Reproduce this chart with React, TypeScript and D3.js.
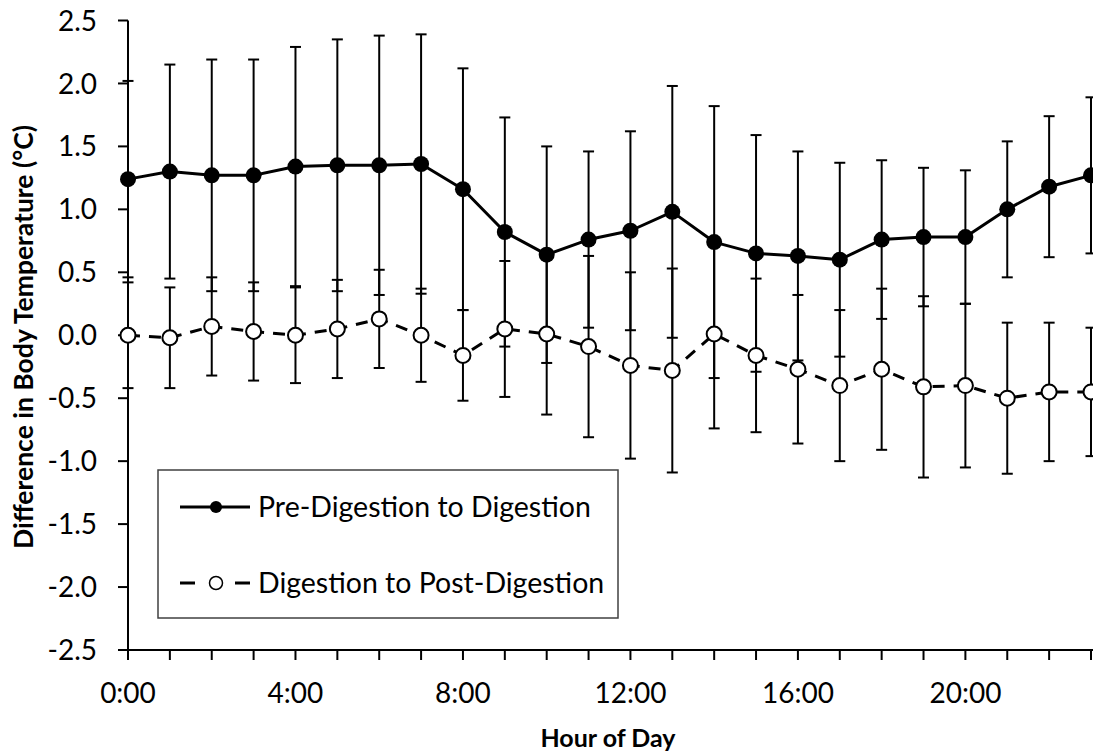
import React from "react";
import * as d3 from "d3";

const hours = d3.range(0, 24);
const xTickLabels = ["0:00", "4:00", "8:00", "12:00", "16:00", "20:00"];
const xTickHours = [0, 4, 8, 12, 16, 20];
const yTicks = [-2.5, -2.0, -1.5, -1.0, -0.5, 0.0, 0.5, 1.0, 1.5, 2.0, 2.5];

const preValues = [1.24, 1.30, 1.27, 1.27, 1.34, 1.35, 1.35, 1.36, 1.16, 0.82, 0.64, 0.76, 0.83, 0.98, 0.74, 0.65, 0.63, 0.60, 0.76, 0.78, 0.78, 1.00, 1.18, 1.27];
const preErrors = [0.78, 0.85, 0.92, 0.92, 0.95, 1.00, 1.03, 1.03, 0.96, 0.91, 0.86, 0.70, 0.79, 1.00, 1.08, 0.94, 0.83, 0.77, 0.63, 0.55, 0.53, 0.54, 0.56, 0.62];
const postValues = [0.00, -0.02, 0.07, 0.03, 0.00, 0.05, 0.13, 0.00, -0.16, 0.05, 0.01, -0.09, -0.24, -0.28, 0.01, -0.16, -0.27, -0.40, -0.27, -0.41, -0.40, -0.50, -0.45, -0.45];
const postErrors = [0.42, 0.40, 0.39, 0.39, 0.38, 0.39, 0.39, 0.37, 0.36, 0.54, 0.64, 0.72, 0.74, 0.81, 0.75, 0.61, 0.59, 0.60, 0.64, 0.72, 0.65, 0.60, 0.55, 0.51];

const seriesNames = ["Pre-Digestion to Digestion", "Digestion to Post-Digestion"];
const xTitle = "Hour of Day";
const yTitle = "Difference in Body Temperature (°C)";

const W = 1093;
const H = 754;
const FONT = "Lato, 'Open Sans', sans-serif";

export default function App() {
  const x = d3.scaleLinear().domain([0, 23]).range([128, 1091]);
  const y = d3.scaleLinear().domain([-2.5, 2.5]).range([650, 20.5]);
  const line = d3
    .line<number>()
    .x((_, i) => x(hours[i]))
    .y((d) => y(d));

  const capHalf = 5.5;
  const errBars = (vals: number[], errs: number[], key: string) =>
    vals.map((v, i) => {
      const cx = x(hours[i]);
      const top = y(v + errs[i]);
      const bot = y(v - errs[i]);
      return (
        <g key={key + i} stroke="#000" strokeWidth={2}>
          <line x1={cx} x2={cx} y1={top} y2={bot} />
          <line x1={cx - capHalf} x2={cx + capHalf} y1={top} y2={top} />
          <line x1={cx - capHalf} x2={cx + capHalf} y1={bot} y2={bot} />
        </g>
      );
    });

  return (
    <svg
      width={W}
      height={H}
      style={{ position: "absolute", left: 0, top: 0, background: "#fff" }}
      fontFamily={FONT}
    >
      <rect x={0} y={0} width={W} height={H} fill="#fff" />

      {/* error bars */}
      {errBars(preValues, preErrors, "pe")}
      {errBars(postValues, postErrors, "qe")}

      {/* lines */}
      <path d={line(preValues) || ""} fill="none" stroke="#000" strokeWidth={3} strokeLinejoin="round" />
      <path d={line(postValues) || ""} fill="none" stroke="#000" strokeWidth={3} strokeDasharray="12,9" />

      {/* axes */}
      <line x1={128} x2={128} y1={y(2.5)} y2={y(-2.5)} stroke="#000" strokeWidth={2} />
      <line x1={127} x2={W} y1={y(-2.5)} y2={y(-2.5)} stroke="#000" strokeWidth={2} />
      {yTicks.map((t) => (
        <g key={"yt" + t}>
          <line x1={118} x2={128} y1={y(t)} y2={y(t)} stroke="#000" strokeWidth={2} />
          <text x={97} y={y(t)} dy="0.36em" textAnchor="end" fontSize={28} fill="#000">
            {t.toFixed(1)}
          </text>
        </g>
      ))}
      {hours.map((h) => (
        <line key={"xt" + h} x1={x(h)} x2={x(h)} y1={650} y2={660} stroke="#000" strokeWidth={2} />
      ))}
      {xTickHours.map((h, i) => (
        <text key={"xl" + h} x={x(h)} y={703} textAnchor="middle" fontSize={28} fill="#000">
          {xTickLabels[i]}
        </text>
      ))}

      {/* markers */}
      {preValues.map((v, i) => (
        <circle key={"pm" + i} cx={x(hours[i])} cy={y(v)} r={8} fill="#000" />
      ))}
      {postValues.map((v, i) => (
        <circle key={"qm" + i} cx={x(hours[i])} cy={y(v)} r={7.5} fill="#fff" stroke="#000" strokeWidth={2} />
      ))}

      {/* titles */}
      <text x={608} y={747} textAnchor="middle" fontSize={25} fontWeight="bold" fill="#000">
        {xTitle}
      </text>
      <text
        transform={`translate(33,337) rotate(-90)`}
        textAnchor="middle"
        fontSize={26.5}
        fontWeight="bold"
        fill="#000"
      >
        {yTitle}
      </text>

      {/* legend */}
      <rect x={158} y={470} width={460} height={148} fill="#fff" stroke="#404040" strokeWidth={1.5} />
      <line x1={180} x2={250} y1={507} y2={507} stroke="#000" strokeWidth={3} />
      <circle cx={216} cy={507} r={6} fill="#000" />
      <text x={258} y={517} fontSize={28.5} fill="#000">
        {seriesNames[0]}
      </text>
      <line x1={180} x2={250} y1={583} y2={583} stroke="#000" strokeWidth={3} strokeDasharray="15,40" />
      <circle cx={216} cy={583} r={6.5} fill="#fff" stroke="#000" strokeWidth={1.5} />
      <text x={258} y={593} fontSize={28.5} fill="#000">
        {seriesNames[1]}
      </text>
    </svg>
  );
}
